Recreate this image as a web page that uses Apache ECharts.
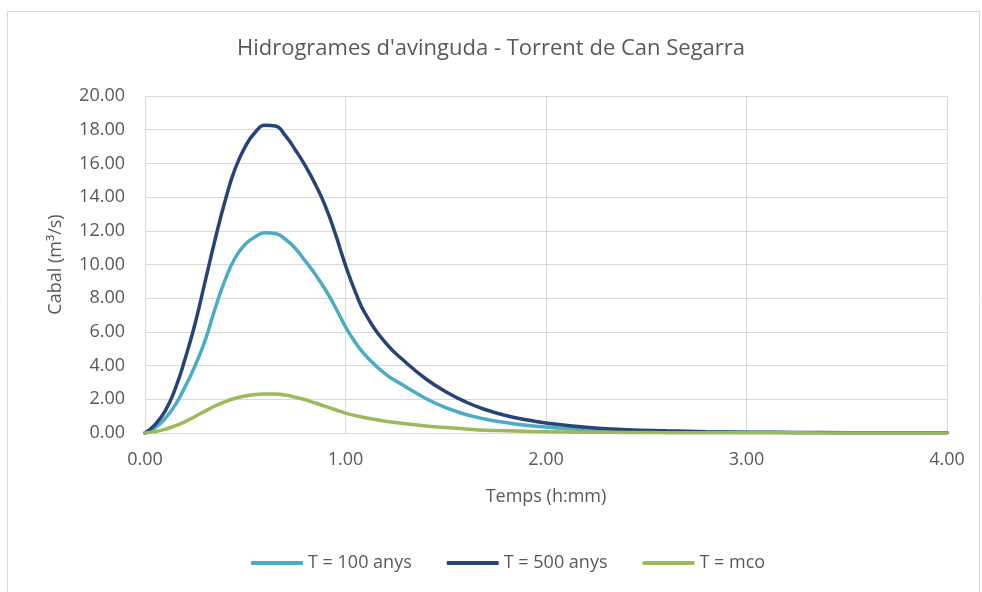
<!DOCTYPE html>
<html>
<head>
<meta charset="utf-8">
<script src="https://cdn.jsdelivr.net/npm/echarts@6/dist/echarts.min.js"></script>
<style>
html,body{margin:0;padding:0;background:#fff;}
#chart{width:982px;height:592px;}
</style>
</head>
<body>
<div id="chart"></div>
<script>
const times = [0, 0.05, 0.1, 0.15, 0.2, 0.25, 0.3, 0.35, 0.4, 0.45, 0.5, 0.55, 0.6, 0.65, 0.7, 0.75, 0.8, 0.85, 0.9, 0.95, 1.0,
  1.05, 1.1, 1.2, 1.3, 1.4, 1.5, 1.6, 1.7, 1.8, 1.9, 2.0, 2.2, 2.4, 2.6, 2.8, 3.0, 3.25, 3.5, 3.75, 4.0];
const q100 = [0, 0.3, 0.85, 1.65, 2.75, 4.0, 5.5, 7.4, 9.1, 10.4, 11.2, 11.65, 11.88, 11.84, 11.5, 10.95, 10.2, 9.4, 8.5, 7.45, 6.3,
  5.35, 4.6, 3.5, 2.75, 2.05, 1.5, 1.1, 0.82, 0.62, 0.46, 0.35, 0.2, 0.12, 0.07, 0.05, 0.03, 0.02, 0.01, 0.01, 0.01];
const q500 = [0, 0.5, 1.3, 2.6, 4.4, 6.5, 9.0, 11.5, 13.8, 15.7, 17.0, 17.85, 18.26, 18.22, 17.65, 16.8, 15.85, 14.75, 13.45, 11.8, 9.95,
  8.35, 7.05, 5.35, 4.2, 3.22, 2.45, 1.84, 1.38, 1.04, 0.79, 0.6, 0.34, 0.2, 0.13, 0.08, 0.05, 0.03, 0.02, 0.01, 0.01];
const qmco = [0, 0.08, 0.22, 0.42, 0.68, 0.98, 1.3, 1.6, 1.86, 2.06, 2.2, 2.28, 2.32, 2.31, 2.25, 2.12, 1.97, 1.78, 1.58, 1.38, 1.18,
  1.03, 0.9, 0.7, 0.55, 0.42, 0.32, 0.24, 0.17, 0.13, 0.1, 0.08, 0.05, 0.03, 0.02, 0.01, 0.01, 0.01, 0.0, 0.0, 0.0];
const seriesNames = ['T = 100 anys', 'T = 500 anys', 'T = mco'];
const titleText = "Hidrogrames d'avinguda - Torrent de Can Segarra";
const xName = 'Temps (h:mm)';
const yName = 'Cabal (m³/s)';

const FONT = 'Open Sans';
const TXT = '#595959';
const GRID = '#d9d9d9';
const colors = ['#4BACC6', '#264478', '#9BBB59'];

function pairs(vals){ return times.map((t,i)=>[t, vals[i]]); }

const chart = echarts.init(document.getElementById('chart'), null, {renderer:'canvas'});
chart.setOption({
  animation:false,
  backgroundColor:'#fff',
  color: colors,
  textStyle:{fontFamily:FONT, color:TXT},
  graphic:[{type:'rect', shape:{x:7.5, y:11.5, width:972, height:600}, style:{fill:'none', stroke:'#d9d9d9', lineWidth:1}, silent:true}],
  title:{text:titleText, left:'center', top:33, textStyle:{fontFamily:FONT, fontSize:22, fontWeight:'normal', color:TXT}},
  legend:{top:549, left:246, itemGap:35, itemWidth:52, itemHeight:4, icon:'roundRect',
    textStyle:{fontFamily:FONT, fontSize:18, color:TXT}, data:seriesNames},
  grid:{left:145, right:35, top:96, bottom:159, containLabel:false},
  xAxis:{type:'value', min:0, max:4, interval:1,
    name:xName, nameLocation:'middle', nameGap:55, nameTextStyle:{fontFamily:FONT, fontSize:18, color:TXT},
    axisLine:{show:true, lineStyle:{color:GRID, width:1}}, axisTick:{show:false},
    axisLabel:{margin:18, fontFamily:FONT, fontSize:18, color:TXT, formatter:v=>v.toFixed(2)},
    splitLine:{show:true, lineStyle:{color:GRID, width:1}}},
  yAxis:{type:'value', min:0, max:20, interval:2,
    name:yName, nameLocation:'middle', nameGap:80, nameTextStyle:{fontFamily:FONT, fontSize:18, color:TXT},
    axisLine:{show:true, lineStyle:{color:GRID, width:1}}, axisTick:{show:false},
    axisLabel:{margin:20, fontFamily:FONT, fontSize:18, color:TXT, formatter:v=>v.toFixed(2)},
    splitLine:{show:true, lineStyle:{color:GRID, width:1}}},
  series:[
    {name:seriesNames[0], type:'line', data:pairs(q100), smooth:0.5, showSymbol:false, symbol:'none', lineStyle:{width:3.5, color:colors[0], cap:'round'}, z:3},
    {name:seriesNames[1], type:'line', data:pairs(q500), smooth:0.5, showSymbol:false, symbol:'none', lineStyle:{width:3.5, color:colors[1], cap:'round'}, z:4},
    {name:seriesNames[2], type:'line', data:pairs(qmco), smooth:0.5, showSymbol:false, symbol:'none', lineStyle:{width:3.5, color:colors[2], cap:'round'}, z:5}
  ]
});
</script>
</body>
</html>
